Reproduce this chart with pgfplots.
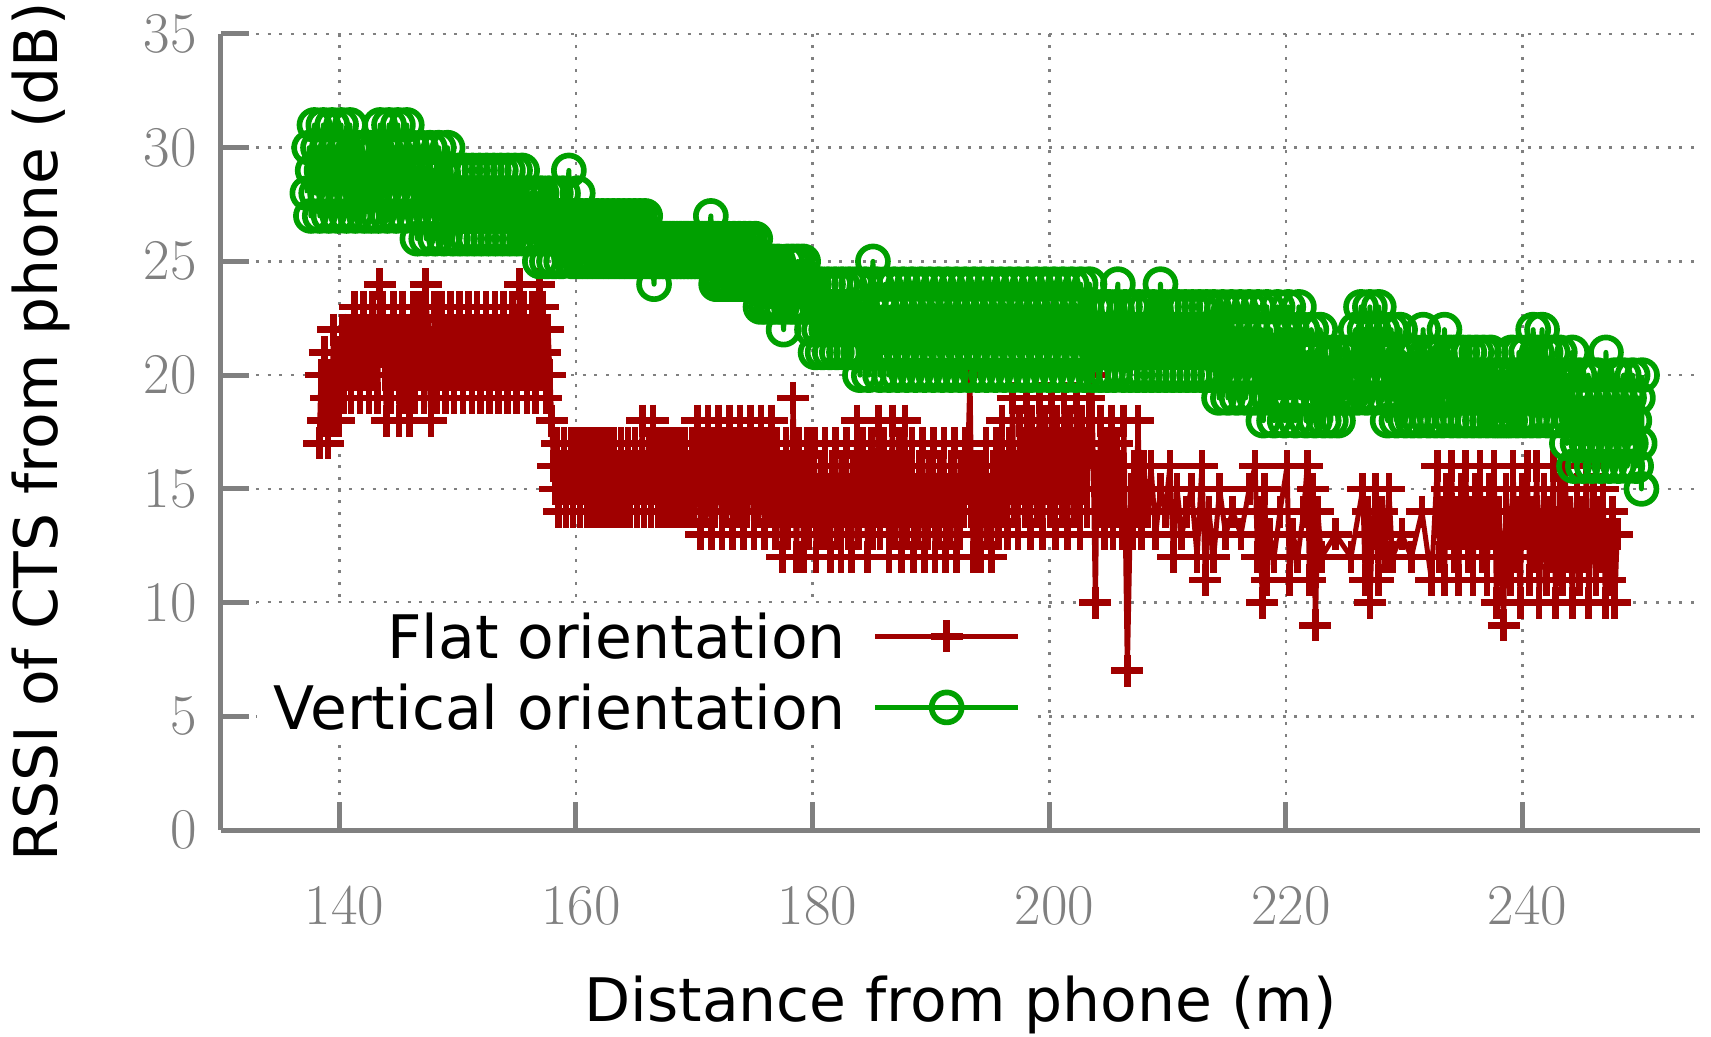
\documentclass[border=0pt]{standalone}
\usepackage{pgfplots}
\pgfplotsset{compat=1.18}
\usepackage{fontspec}
\setmainfont{DejaVu Sans}
\definecolor{flatred}{RGB}{160,0,0}
\definecolor{vertgreen}{RGB}{0,160,0}
\definecolor{axgray}{RGB}{128,128,128}
\begin{document}
\begin{tikzpicture}
\useasboundingbox (-66.3pt,-61.8pt) rectangle (447.0pt,249pt);
\begin{axis}[
  scale only axis, width=443.7pt, height=238.8pt,
  xmin=130, xmax=255, ymin=0, ymax=35,
  xtick={140,160,...,240}, ytick={0,5,...,35},
  axis x line*=bottom, axis y line*=left,
  axis line style={axgray, line width=1.5pt, -},
  tick align=inside, major tick length=8.5pt,
  tick style={axgray, line width=1.5pt},
  grid=major,
  major grid style={axgray, line width=0.75pt, dash pattern=on 0.9pt off 2.6pt},
  ticklabel style={font=\fontsize{16.5}{17}\selectfont, text=axgray},
  xticklabel style={anchor=center, yshift=-22.8pt, xshift=1.5pt},
  yticklabel style={xshift=-3.8pt},
  xlabel={Distance from phone (m)},
  ylabel={RSSI of CTS from phone (dB)},
  every axis x label/.style={at={(axis description cs:0.5,-0.22)}, anchor=center, font=\fontsize{18}{20}\selectfont},
  every axis y label/.style={at={(axis description cs:-0.1216,0.5)}, anchor=center, rotate=90, font=\fontsize{18}{20}\selectfont},
  legend cell align=right,
  legend plot pos=right,
  legend image code/.code={\draw[mark repeat=2,mark phase=2,#1] plot coordinates {(0pt,0pt) (21.5pt,0pt) (43pt,0pt)};},
  legend style={at={(0.548,0.2855)}, anchor=north east, fill=white, draw=none,
    font=\fontsize{18}{20}\selectfont, inner xsep=3pt, inner ysep=1.4pt,
    nodes={inner sep=2pt, text height=13pt, text depth=0pt},
    row sep=4.3pt, column sep=6pt},
]
\addplot[flatred, line width=1.5pt, line join=round, mark=+, mark size=4.8pt, mark options={line width=2pt, solid}] table {
x y
138.30 17
138.45 20
138.60 18
138.75 21
138.90 19
139.05 17
139.20 20
139.35 18
139.50 22
139.65 19
139.80 21
139.95 18
140.10 20
140.25 22
140.40 19
140.55 21
140.70 20
140.85 22
141.00 19
141.15 21
141.30 23
141.45 20
141.60 22
141.75 19
141.90 21
142.05 23
142.20 20
142.35 22
142.50 19
142.65 21
142.80 23
142.95 20
143.10 22
143.25 19
143.40 24
143.55 21
143.70 23
143.85 20
144.00 18
144.15 22
144.30 19
144.45 21
144.60 23
144.75 20
144.90 22
145.05 18
145.20 21
145.35 23
145.50 19
145.65 22
145.80 20
145.95 18
146.10 21
146.25 23
146.40 19
146.55 22
146.70 20
146.85 23
147.00 21
147.15 19
147.30 24
147.45 22
147.60 20
147.75 18
147.90 21
148.05 23
148.20 19
148.35 22
148.50 20
148.65 23
148.80 21
148.95 19
149.10 22
149.25 20
149.40 23
149.55 21
149.70 19
149.85 22
150.00 20
150.15 23
150.30 21
150.45 19
150.60 22
150.75 20
150.90 23
151.05 21
151.20 19
151.35 22
151.50 20
151.65 23
151.80 21
151.95 19
152.10 22
152.25 20
152.40 23
152.55 21
152.70 19
152.85 22
153.00 20
153.15 23
153.30 21
153.45 19
153.60 22
153.75 20
153.90 23
154.05 21
154.20 19
154.35 22
154.50 20
154.65 23
154.80 21
154.95 19
155.10 22
155.25 24
155.40 20
155.55 23
155.70 21
155.85 19
156.00 22
156.15 20
156.30 23
156.45 21
156.60 19
156.75 22
156.90 24
157.05 20
157.20 23
157.35 21
157.50 19
157.65 22
157.80 20
157.95 18
158.10 16
158.25 15
158.40 17
158.55 14
158.70 16
158.85 15
159.00 17
159.15 14
159.30 16
159.45 15
159.60 17
159.75 14
159.90 16
160.05 15
160.20 17
160.35 14
160.50 16
160.65 15
160.80 17
160.95 14
161.10 16
161.25 15
161.40 17
161.55 14
161.70 16
161.85 15
162.00 17
162.15 14
162.30 16
162.45 15
162.60 17
162.75 14
162.90 16
163.05 15
163.20 17
163.35 14
163.50 16
163.65 15
163.80 17
163.95 14
164.10 16
164.25 15
164.40 17
164.55 14
164.70 16
164.85 15
165.00 17
165.15 14
165.30 16
165.45 15
165.60 18
165.75 14
165.90 16
166.05 15
166.20 17
166.35 14
166.50 18
166.65 15
166.80 17
166.95 14
167.10 16
167.25 15
167.40 17
167.55 14
167.70 16
167.85 15
168.00 17
168.15 14
168.30 16
168.45 15
168.60 17
168.75 14
168.90 16
169.05 15
169.20 17
169.35 14
169.50 16
169.65 15
169.80 17
169.95 14
170.10 16
170.25 18
170.40 15
170.55 13
170.70 17
170.85 14
171.00 16
171.15 18
171.30 15
171.45 13
171.60 17
171.75 14
171.90 16
172.05 18
172.20 15
172.35 13
172.50 17
172.65 14
172.80 16
172.95 18
173.10 15
173.25 13
173.40 17
173.55 14
173.70 16
173.85 18
174.00 15
174.15 13
174.30 17
174.45 14
174.60 16
174.75 18
174.90 15
175.05 13
175.20 17
175.35 14
175.50 16
175.65 18
175.80 15
175.95 13
176.10 17
176.25 14
176.40 16
176.55 18
176.70 15
176.85 13
177.00 17
177.15 14
177.30 16
177.45 12
177.60 15
177.75 17
177.90 13
178.05 16
178.20 14
178.35 19
178.50 15
178.65 12
178.80 17
178.95 14
179.10 16
179.25 12
179.40 15
179.55 17
179.70 13
179.85 16
180.00 14
180.15 17
180.30 12
180.45 15
180.60 13
180.75 16
180.90 14
181.05 17
181.20 13
181.35 15
181.50 12
181.65 16
181.80 14
181.95 17
182.10 13
182.25 15
182.40 12
182.55 16
182.70 14
182.85 17
183.00 13
183.15 15
183.30 12
183.45 16
183.60 14
183.75 18
183.90 13
184.05 15
184.20 17
184.35 14
184.50 16
184.65 12
184.80 15
184.95 17
185.10 13
185.25 16
185.40 14
185.55 18
185.70 13
185.85 15
186.00 17
186.15 14
186.30 16
186.45 12
186.60 15
186.75 18
186.90 13
187.05 16
187.20 14
187.35 17
187.50 12
187.65 15
187.80 18
187.95 13
188.10 16
188.25 14
188.40 17
188.55 12
188.70 15
188.85 13
189.00 16
189.15 14
189.30 17
189.45 12
189.60 15
189.75 13
189.90 16
190.05 14
190.20 17
190.35 12
190.50 15
190.65 13
190.80 16
190.95 14
191.10 17
191.25 12
191.40 15
191.55 13
191.70 16
191.85 14
192.00 17
192.15 12
192.30 15
192.45 13
192.60 16
192.75 14
192.90 17
193.05 15
193.30 20
193.45 14
193.60 12
193.75 16
193.90 13
194.05 15
194.20 12
194.35 16
194.50 14
194.65 17
194.80 13
194.95 15
195.10 12
195.25 16
195.40 14
195.55 17
195.70 13
195.85 15
196.00 18
196.15 14
196.30 16
196.45 13
196.60 17
196.75 15
196.90 19
197.05 14
197.20 16
197.35 13
197.50 18
197.65 15
197.80 17
197.95 14
198.10 19
198.25 16
198.40 13
198.55 18
198.70 15
198.85 17
199.00 14
199.15 19
199.30 16
199.45 13
199.60 18
199.75 15
199.90 17
200.05 14
200.20 19
200.35 16
200.50 13
200.65 18
200.80 15
200.95 17
201.10 14
201.25 19
201.40 16
201.55 13
201.70 18
201.85 15
202.00 17
202.15 14
202.30 19
202.45 16
202.60 13
202.75 18
202.90 15
203.05 17
203.20 14
203.35 19
203.60 20
203.90 10
204.05 16
204.20 14
204.35 18
204.50 15
204.65 13
204.80 17
204.95 14
205.10 16
205.25 18
205.40 13
205.55 15
205.70 17
205.85 14
206.00 16
206.15 13
206.30 18
206.60 7
206.90 15
207.05 13
207.20 16
207.35 14
207.50 18
207.65 15
207.80 13
207.95 16
208.3 14
208.6 16
209.0 13
209.4 15
209.8 14
210.2 16
210.5 12
210.8 15
211.2 13
211.6 14
212.0 15
212.5 12
212.9 16
213.2 11
213.5 14
213.9 12
214.4 15
214.9 13
215.5 14
216.2 13
216.9 15
217.4 16
217.6 12
217.8 14
218.0 10
218.2 15
218.4 11
218.6 13
219.0 12
219.5 14
220.1 16
220.3 11
220.6 13
221.0 12
221.5 14
221.8 16
222.0 11
222.3 15
222.5 9
222.7 14
223.0 12
224.2 13
225.5 12
226.5 15
226.7 11
226.9 14
227.1 10
227.3 13
227.6 15
227.8 11
228.1 14
228.4 12
228.7 15
229.0 12
229.8 13
230.6 12
231.5 14
232.3 11
232.8 16
233.0 12
233.2 14
233.4 11
233.6 15
233.8 13
234.0 16
234.2 12
234.4 14
234.6 11
234.8 15
235.0 13
235.2 16
235.4 12
235.6 14
235.8 11
236.0 15
236.2 13
236.4 16
236.6 12
236.8 14
237.0 11
237.2 15
237.4 13
237.6 16
237.8 10
238.0 14
238.2 12
238.4 9
238.6 15
238.8 13
239.0 11
239.2 16
239.4 12
239.6 14
239.8 10
240.0 15
240.2 13
240.4 16
240.6 11
240.8 14
241.0 12
241.2 16
241.4 10
241.6 13
241.8 15
242.0 11
242.2 14
242.4 12
242.6 16
242.8 10
243.0 13
243.2 15
243.4 11
243.6 16
243.8 12
244.0 14
244.2 10
244.4 13
244.6 15
244.8 11
245.0 14
245.2 12
245.4 16
245.6 10
245.8 13
246.0 15
246.2 11
246.4 14
246.6 12
246.8 15
247.0 10
247.2 13
247.4 11
247.6 14
247.8 10
248.0 13
};
\addlegendentry{Flat orientation}
\addplot[vertgreen, line width=1.5pt, line join=round, mark=o, mark size=4.5pt, mark options={line width=1.7pt, solid}] table {
x y
137.30 28
137.45 30
137.60 27
137.75 29
137.90 31
138.05 28
138.20 30
138.35 27
138.50 29
138.65 31
138.80 28
138.95 30
139.10 27
139.25 29
139.40 31
139.55 28
139.70 30
139.85 27
140.00 29
140.15 31
140.30 28
140.45 30
140.60 27
140.75 29
140.90 31
141.05 28
141.20 30
141.35 27
141.50 29
141.65 30
141.80 28
141.95 30
142.10 27
142.25 29
142.40 28
142.55 30
142.70 27
142.85 29
143.00 28
143.15 30
143.30 27
143.45 31
143.60 29
143.75 28
143.90 30
144.05 27
144.20 31
144.35 29
144.50 28
144.65 30
144.80 27
144.95 31
145.10 29
145.25 28
145.40 30
145.55 27
145.70 31
145.85 29
146.00 28
146.15 30
146.30 27
146.45 29
146.60 26
146.75 28
146.90 30
147.05 27
147.20 29
147.35 26
147.50 28
147.65 30
147.80 27
147.95 29
148.10 26
148.25 28
148.40 30
148.55 27
148.70 29
148.85 26
149.00 28
149.15 30
149.30 27
149.45 29
149.60 26
149.75 28
149.90 27
150.05 29
150.20 26
150.35 28
150.50 27
150.65 29
150.80 26
150.95 28
151.10 27
151.25 29
151.40 26
151.55 28
151.70 27
151.85 29
152.00 26
152.15 28
152.30 27
152.45 29
152.60 26
152.75 28
152.90 27
153.05 29
153.20 26
153.35 28
153.50 27
153.65 29
153.80 26
153.95 28
154.10 27
154.25 29
154.40 26
154.55 28
154.70 27
154.85 29
155.00 26
155.15 28
155.30 27
155.45 29
155.60 26
155.75 28
155.90 27
156.05 26
156.20 28
156.35 27
156.50 26
156.65 28
156.80 27
156.95 25
157.10 28
157.25 26
157.40 27
157.55 25
157.70 28
157.85 26
158.00 27
158.15 25
158.30 28
158.45 26
158.60 27
158.75 25
158.90 28
159.05 26
159.20 27
159.40 29
159.55 26
159.70 25
159.85 27
160.00 26
160.15 28
160.30 25
160.45 27
160.60 26
160.75 25
160.90 27
161.05 26
161.20 25
161.35 27
161.50 26
161.65 25
161.80 27
161.95 26
162.10 25
162.25 27
162.40 26
162.55 25
162.70 27
162.85 26
163.00 25
163.15 27
163.30 26
163.45 25
163.60 27
163.75 26
163.90 25
164.05 27
164.20 26
164.35 25
164.50 27
164.65 26
164.80 25
164.95 27
165.10 26
165.25 25
165.40 27
165.55 26
165.70 25
165.85 27
166.00 26
166.15 25
166.30 26
166.45 25
166.60 24
166.75 26
166.90 25
167.05 26
167.20 25
167.35 26
167.50 25
167.65 26
167.80 25
167.95 26
168.10 25
168.25 26
168.40 25
168.55 26
168.70 25
168.85 26
169.00 25
169.15 26
169.30 25
169.45 26
169.60 25
169.75 26
169.90 25
170.05 26
170.20 25
170.35 26
170.50 25
170.65 26
170.80 25
170.95 26
171.10 25
171.25 26
171.40 27
171.55 25
171.70 26
171.85 24
172.00 26
172.15 25
172.30 24
172.45 26
172.60 25
172.75 24
172.90 26
173.05 25
173.20 24
173.35 26
173.50 25
173.65 24
173.80 26
173.95 25
174.10 24
174.25 26
174.40 25
174.55 24
174.70 26
174.85 25
175.00 24
175.15 26
175.30 25
175.45 24
175.60 23
175.75 25
175.90 24
176.05 23
176.20 25
176.35 24
176.50 23
176.65 25
176.80 24
176.95 23
177.10 25
177.25 24
177.40 23
177.55 22
177.70 24
177.85 25
178.00 23
178.15 24
178.30 25
178.45 23
178.60 24
178.75 25
178.90 23
179.05 24
179.20 25
179.35 23
179.50 24
179.65 23
179.80 24
179.95 22
180.10 24
180.25 21
180.40 23
180.55 22
180.70 24
180.85 21
181.00 23
181.15 22
181.30 24
181.45 21
181.60 23
181.75 22
181.90 24
182.05 21
182.20 23
182.35 22
182.50 24
182.65 21
182.80 23
182.95 22
183.10 24
183.25 21
183.40 23
183.55 22
183.70 24
183.85 21
184.00 20
184.15 23
184.30 21
184.45 24
184.60 22
184.75 20
184.90 23
185.10 25
185.25 21
185.40 24
185.55 22
185.70 20
185.85 23
186.00 21
186.15 24
186.30 22
186.45 20
186.60 23
186.75 21
186.90 24
187.05 22
187.20 20
187.35 23
187.50 21
187.65 24
187.80 22
187.95 20
188.10 23
188.25 21
188.40 24
188.55 22
188.70 20
188.85 23
189.00 21
189.15 24
189.30 22
189.45 20
189.60 23
189.75 21
189.90 24
190.05 22
190.20 20
190.35 23
190.50 21
190.65 24
190.80 22
190.95 20
191.10 23
191.25 21
191.40 24
191.55 22
191.70 20
191.85 23
192.00 21
192.15 24
192.30 22
192.45 20
192.60 23
192.75 21
192.90 24
193.05 22
193.20 20
193.35 23
193.50 21
193.65 24
193.80 22
193.95 20
194.10 23
194.25 21
194.40 24
194.55 22
194.70 20
194.85 23
195.00 21
195.15 24
195.30 22
195.45 20
195.60 23
195.75 21
195.90 24
196.05 22
196.20 20
196.35 23
196.50 21
196.65 24
196.80 22
196.95 20
197.10 23
197.25 21
197.40 24
197.55 22
197.70 20
197.85 23
198.00 21
198.15 24
198.30 22
198.45 20
198.60 23
198.75 21
198.90 24
199.05 22
199.20 20
199.35 23
199.50 21
199.65 24
199.80 22
199.95 20
200.10 23
200.25 21
200.40 24
200.55 22
200.70 20
200.85 23
201.00 21
201.15 24
201.30 22
201.45 20
201.60 23
201.75 21
201.90 24
202.05 22
202.20 20
202.35 23
202.50 21
202.65 24
202.80 22
202.95 20
203.10 23
203.25 21
203.40 24
203.55 22
203.70 20
203.85 23
204.00 21
204.15 22
204.30 20
204.45 23
204.60 21
204.75 22
204.90 20
205.05 23
205.20 21
205.35 22
205.50 20
205.65 23
205.80 24
205.95 21
206.10 22
206.25 20
206.40 23
206.55 21
206.70 22
206.85 20
207.00 23
207.15 21
207.30 22
207.45 20
207.60 23
207.75 21
207.90 22
208.05 20
208.20 23
208.35 21
208.50 22
208.65 20
208.80 23
208.95 21
209.10 22
209.25 20
209.40 24
209.55 21
209.70 23
209.85 20
210.00 22
210.15 21
210.30 23
210.45 20
210.60 22
210.75 21
210.90 23
211.05 20
211.20 22
211.35 21
211.50 23
211.65 20
211.80 22
211.95 21
212.10 23
212.25 20
212.40 22
212.55 21
212.70 23
212.85 20
213.00 22
213.15 21
213.30 23
213.45 20
213.60 22
213.75 21
213.90 23
214.05 20
214.20 22
214.35 19
214.50 21
214.65 23
214.80 20
214.95 22
215.10 19
215.25 21
215.40 23
215.55 20
215.70 22
215.85 19
216.00 21
216.15 23
216.30 20
216.45 22
216.60 19
216.75 21
216.90 23
217.05 20
217.20 22
217.35 19
217.50 21
217.65 23
217.80 20
217.95 22
218.10 18
218.25 21
218.40 23
218.55 19
218.70 22
218.85 20
219.00 18
219.15 21
219.30 23
219.45 19
219.60 22
219.75 20
219.90 18
220.05 21
220.20 23
220.35 19
220.50 22
220.65 20
220.80 18
220.95 21
221.10 23
221.25 19
221.40 22
221.55 20
221.70 18
221.85 21
222.00 19
222.15 22
222.30 20
222.45 18
222.60 21
222.75 19
222.90 22
223.05 20
223.20 18
223.35 21
223.50 19
223.65 20
223.80 18
223.95 21
224.10 19
224.25 20
224.40 18
224.55 21
224.70 19
224.85 20
225.00 19
225.15 21
225.30 20
225.45 19
225.60 21
225.75 20
225.90 22
226.05 19
226.20 21
226.35 23
226.50 20
226.65 22
226.80 19
226.95 21
227.10 23
227.25 20
227.40 22
227.55 19
227.70 21
227.85 23
228.00 20
228.15 22
228.30 19
228.45 21
228.60 18
228.75 20
228.90 22
229.05 19
229.20 21
229.35 18
229.50 20
229.65 22
229.80 19
229.95 21
230.10 18
230.25 20
230.40 21
230.55 19
230.70 18
230.85 20
231.00 21
231.15 19
231.30 18
231.45 20
231.60 22
231.75 19
231.90 21
232.05 18
232.20 20
232.35 21
232.50 19
232.65 18
232.80 20
232.95 21
233.10 19
233.25 18
233.40 22
233.55 20
233.70 19
233.85 21
234.00 18
234.15 20
234.30 21
234.45 19
234.60 18
234.75 20
234.90 21
235.05 19
235.20 18
235.35 20
235.50 21
235.65 19
235.80 18
235.95 20
236.10 21
236.25 19
236.40 18
236.55 20
236.70 21
236.85 19
237.00 18
237.15 20
237.30 21
237.45 19
237.60 18
237.75 20
237.90 19
238.05 18
238.20 20
238.35 19
238.50 18
238.80 20
238.95 18
239.10 21
239.25 19
239.40 20
239.55 18
239.70 21
239.85 19
240.00 20
240.15 18
240.30 21
240.45 19
240.60 20
240.75 18
240.90 22
241.05 19
241.20 21
241.35 18
241.50 20
241.65 22
241.80 19
241.95 21
242.10 18
242.25 20
242.40 19
242.55 21
242.70 18
242.85 20
243.00 19
243.15 21
243.30 18
243.45 20
243.60 19
243.75 17
243.90 20
244.05 18
244.20 21
244.35 16
244.50 19
244.65 17
244.80 20
244.95 18
245.10 16
245.25 19
245.40 17
245.55 20
245.70 18
245.85 16
246.00 19
246.15 17
246.30 20
246.45 18
246.60 16
246.75 19
246.90 17
247.05 21
247.20 18
247.35 16
247.50 19
247.65 17
247.80 20
247.95 18
248.10 16
248.25 19
248.40 17
248.55 20
248.70 18
248.85 16
249.00 19
249.15 17
249.30 20
249.45 18
249.60 16
249.75 19
249.90 17
250.05 15
250.10 20
};
\addlegendentry{Vertical orientation}
\end{axis}
\end{tikzpicture}
\end{document}
